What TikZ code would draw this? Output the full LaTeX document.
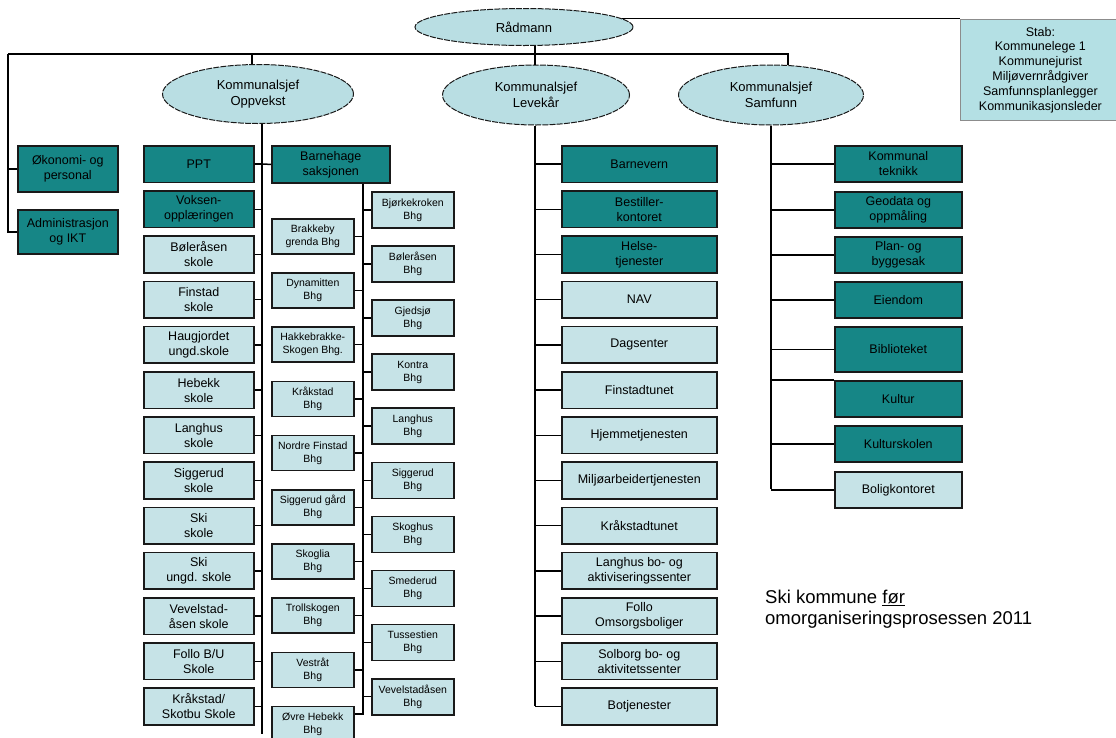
\documentclass[tikz,border=0pt]{standalone}
\usepackage{fontspec}
\setmainfont{Liberation Sans}
\usetikzlibrary{shapes.geometric}
\usetikzlibrary{positioning}
\definecolor{boxteal}{RGB}{22,134,134}
\definecolor{boxpale}{RGB}{198,227,231}
\definecolor{ovalfill}{RGB}{185,222,227}
\definecolor{stabfill}{RGB}{180,224,228}

\begin{document}
\begin{tikzpicture}[x=1pt, y=-1pt,
    orgbox/.style={rectangle, draw=black!90, line width=1.6pt, align=center,
        inner sep=1pt, anchor=north west, font=\fontsize{12.5}{15}\selectfont},
    darkbox/.style={orgbox, fill=boxteal},
    palebox/.style={orgbox, fill=boxpale},
    bhgbox/.style={palebox, font=\fontsize{10.5}{13}\selectfont,
        minimum width=82pt, minimum height=35pt},
    chief/.style={ellipse, draw=black!90, dash pattern=on 6pt off 1.2pt,
        line width=1pt, fill=ovalfill, align=center, inner sep=0pt,
        font=\fontsize{13}{15.5}\selectfont},
    stabbox/.style={rectangle, draw=black!45, line width=0.8pt, fill=stabfill,
        align=center, anchor=north west, font=\fontsize{12.5}{14.8}\selectfont},
    link/.style={draw=black, line width=1.5pt}]

    \useasboundingbox (0,0) rectangle (1116,737);
    \clip (0,0) rectangle (1116,737);

    \node[chief, minimum width=218pt, minimum height=37pt] (radmann) at (524,27) {Rådmann};
    \node[chief, minimum width=191pt, minimum height=59pt] (oppvekst) at (258,94) {Kommunalsjef\\Oppvekst};
    \node[chief, minimum width=187pt, minimum height=60pt] (levekar) at (536,95) {Kommunalsjef\\Levekår};
    \node[chief, minimum width=185pt, minimum height=60pt] (samfunn) at (771,95) {Kommunalsjef\\Samfunn};
    \node[stabbox, minimum width=160pt, minimum height=101pt] (stab) at (960,19)
        {Stab:\\Kommunelege 1\\Kommunejurist\\Miljøvernrådgiver\\Samfunnsplanlegger\\Kommunikasjonsleder};

    \node[darkbox, minimum width=100pt, minimum height=46pt] (okonomi) at (17,145) {Økonomi- og\\personal};
    \node[darkbox, minimum width=100pt, minimum height=44pt] (adm) at (17,209) {Administrasjon\\og IKT};

    \foreach \sty/\txt [count=\i from 0] in {darkbox/{PPT}, darkbox/{Voksen-\\opplæringen},
        palebox/{Bøleråsen\\skole}, palebox/{Finstad\\skole}, palebox/{Haugjordet\\ungd.skole},
        palebox/{Hebekk\\skole}, palebox/{Langhus\\skole}, palebox/{Siggerud\\skole},
        palebox/{Ski\\skole}, palebox/{Ski\\ungd. skole}, palebox/{Vevelstad-\\åsen skole},
        palebox/{Follo B/U\\Skole}, palebox/{Kråkstad/\\Skotbu Skole}}
        \node[\sty, minimum width=110pt, minimum height=36.5pt] (opp\i) at (143,{145+45.2*\i}) {\txt};

    \node[darkbox, minimum width=118pt, minimum height=37pt] (barnehage) at (271,145) {Barnehage\\saksjonen};

    \foreach \txt [count=\i from 0] in {{Brakkeby\\grenda Bhg}, {Dynamitten\\Bhg},
        {Hakkebrakke-\\Skogen Bhg.}, {Kråkstad\\Bhg}, {Nordre Finstad\\Bhg},
        {Siggerud gård\\Bhg}, {Skoglia\\Bhg}, {Trollskogen\\Bhg}, {Vestråt\\Bhg},
        {Øvre Hebekk\\Bhg}}
        \node[bhgbox] (bl\i) at (271,{218+54.2*\i}) {\txt};

    \foreach \txt [count=\i from 0] in {{Bjørkekroken\\Bhg}, {Bøleråsen\\Bhg},
        {Gjedsjø\\Bhg}, {Kontra\\Bhg}, {Langhus\\Bhg}, {Siggerud\\Bhg}, {Skoghus\\Bhg},
        {Smederud\\Bhg}, {Tussestien\\Bhg}, {Vevelstadåsen\\Bhg}}
        \node[bhgbox, minimum height=36pt] (br\i) at (371,{191+54.1*\i}) {\txt};

    \foreach \sty/\txt [count=\i from 0] in {darkbox/{Barnevern}, darkbox/{Bestiller-\\kontoret},
        darkbox/{Helse-\\tjenester}, palebox/{NAV}, palebox/{Dagsenter}, palebox/{Finstadtunet},
        palebox/{Hjemmetjenesten}, palebox/{Miljøarbeidertjenesten}, palebox/{Kråkstadtunet},
        palebox/{Langhus bo- og\\aktiviseringssenter}, palebox/{Follo\\Omsorgsboliger},
        palebox/{Solborg bo- og\\aktivitetssenter}, palebox/{Botjenester}}
        \node[\sty, minimum width=155pt, minimum height=36.5pt] (lev\i) at (561,{145+45.2*\i}) {\txt};

    \foreach \sty/\y/\h/\txt [count=\i from 0] in {darkbox/145/36/{Kommunal\\teknikk},
        darkbox/191/36/{Geodata og\\oppmåling}, darkbox/236/36/{Plan- og\\byggesak},
        darkbox/281/36/{Eiendom}, darkbox/326/45/{Biblioteket}, darkbox/380/36/{Kultur},
        darkbox/425/36/{Kulturskolen}, palebox/471/36/{Boligkontoret}}
        \node[\sty, minimum width=127pt, minimum height=\h pt] (sam\i) at (834,\y) {\txt};

    \node[anchor=north west, inner sep=0pt, align=left, font=\fontsize{18.5}{20.5}\selectfont]
        (caption) at (765,590) {Ski kommune \underline{før}\\omorganiseringsprosessen 2011};

    % top level
    \coordinate (lefttop) at (8,54);
    \coordinate (opptop) at (252,54);
    \coordinate (levtop) at (535,54);
    \coordinate (samtop) at (788,54);
    \draw[link] (radmann.5) -- (radmann.5 -| stab.west);
    \draw[link] (radmann.south -| levtop) -- (levtop) -- (levtop |- levekar.north);
    \draw[link] (lefttop) -- (samtop) -- (samtop |- samfunn.north);
    \draw[link] (opptop) -- (opptop |- oppvekst.north);
    \draw[link] (lefttop) |- (adm.west);
    \draw[link] (okonomi.west) -- (okonomi.west -| lefttop);

    % Oppvekst
    \coordinate (oppend) at (262,734);
    \draw[link] (oppend |- oppvekst.south) -- (oppend);
    \foreach \i in {0,...,12}
        \draw[link] (opp\i.east) -- (opp\i.east -| oppend);
    \draw[link] (opp0.east) -- (barnehage.west);

    \coordinate (bhgend) at (363,714);
    \draw[link] (bhgend |- barnehage.south) -- (bhgend) -- (bhgend -| bl9.east);
    \foreach \i in {0,...,8}
        \draw[link] (bl\i.east) -- (bl\i.east -| bhgend);
    \foreach \i in {0,...,9}
        \draw[link] (br\i.west) -- (br\i.west -| bhgend);

    % Levekaar
    \coordinate (levend) at (535,706);
    \draw[link] (levend |- levekar.south) -- (levend);
    \foreach \i in {0,...,12}
        \draw[link] (lev\i.west) -- (lev\i.west -| levend);

    % Samfunn
    \coordinate (samend) at (771,489);
    \draw[link] (samend |- samfunn.south) -- (samend);
    \foreach \i/\a in {0/west, 1/west, 2/west, 3/west, 4/west, 5/north west, 6/west, 7/west}
        \draw[link] (sam\i.\a) -- (sam\i.\a -| samend);

\end{tikzpicture}
\end{document}
